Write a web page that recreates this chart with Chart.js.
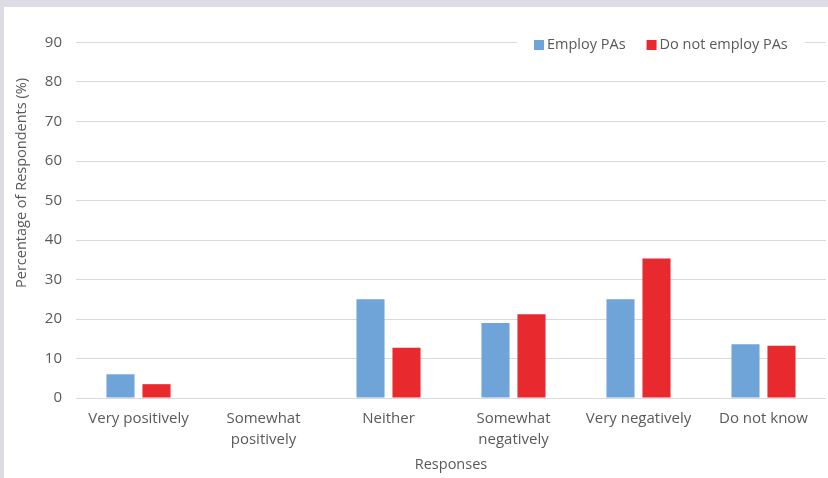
<!DOCTYPE html>
<html>
<head>
<meta charset="utf-8">
<script src="https://cdn.jsdelivr.net/npm/chart.js@4"></script>
<style>
  html, body { margin: 0; padding: 0; }
  body { width: 828px; height: 478px; position: relative; overflow: hidden; background: #fff; }
  #wrap { position: absolute; left: 0; top: -20px; width: 828px; height: 498px; }
  .band { position: absolute; background: #dddbe3; z-index: 2; }
</style>
</head>
<body>
<div id="wrap"><canvas id="chart"></canvas></div>
<div class="band" style="left:0;top:0;width:828px;height:7px;"></div>
<div class="band" style="left:0;top:0;width:4px;height:478px;"></div>
<script>
const categories = ['Very positively', ['Somewhat', 'positively'], 'Neither', ['Somewhat', 'negatively'], 'Very negatively', 'Do not know'];
const employPAs = [6, 0, 25, 19, 25, 13.6];
const doNotEmployPAs = [3.5, 0, 12.7, 21.2, 35.3, 13.2];
const yTicks = [0, 10, 20, 30, 40, 50, 60, 70, 80, 90, 100];

const textColor = '#595959';
Chart.defaults.font.family = "'Open Sans', sans-serif";
Chart.defaults.font.size = 14;
Chart.defaults.color = textColor;

// legend box sitting inside the plot, top right
const boxLegend = {
  id: 'boxLegend',
  afterDraw(chart) {
    const c = chart.ctx;
    const a = chart.chartArea;
    const y = a.top + 42;
    c.save();
    c.fillStyle = '#fff';
    c.fillRect(a.right - 309, y - 10, 288, 20);
    c.font = "14.5px 'Open Sans', sans-serif";
    c.textBaseline = 'middle';
    let x = a.right - 292;
    chart.data.datasets.forEach(ds => {
      c.fillStyle = ds.backgroundColor;
      c.fillRect(x, y - 5, 10, 10);
      c.fillStyle = textColor;
      c.fillText(ds.label, x + 13, y);
      x += 13 + c.measureText(ds.label).width + 21;
    });
    c.restore();
  }
};

// y axis title, placed like the original (a bit above the plot centre)
const yTitle = {
  id: 'yTitle',
  afterDraw(chart) {
    const c = chart.ctx;
    const a = chart.chartArea;
    c.save();
    c.translate(22, a.bottom - 215);
    c.rotate(-Math.PI / 2);
    c.font = "14.5px 'Open Sans', sans-serif";
    c.fillStyle = textColor;
    c.textAlign = 'center';
    c.textBaseline = 'middle';
    c.fillText('Percentage of Respondents (%)', 0, 0);
    c.restore();
  }
};

new Chart(document.getElementById('chart'), {
  type: 'bar',
  data: {
    labels: categories,
    datasets: [{
      label: 'Employ PAs',
      data: employPAs,
      backgroundColor: '#6fa4d9',
      barPercentage: 0.78,
      categoryPercentage: 0.576
    }, {
      label: 'Do not employ PAs',
      data: doNotEmployPAs,
      backgroundColor: '#e8292e',
      barPercentage: 0.78,
      categoryPercentage: 0.576
    }]
  },
  options: {
    responsive: true,
    maintainAspectRatio: false,
    animation: false,
    layout: { padding: { left: 0, right: 2, top: 0, bottom: 0 } },
    plugins: {
      legend: { display: false },
      tooltip: { enabled: false }
    },
    scales: {
      x: {
        grid: { display: false },
        border: { display: false },
        ticks: { maxRotation: 0, autoSkip: false, padding: 3, font: { size: 15, lineHeight: 1.35 } },
        title: { display: true, text: 'Responses', font: { size: 14.5 }, padding: { top: 4, bottom: 4 } },
        afterFit(scale) { scale.height = 80; }
      },
      y: {
        min: 0,
        max: 100,
        afterBuildTicks(scale) { scale.ticks = yTicks.map(v => ({ value: v })); },
        grid: { color: '#d9d9d9', drawTicks: false },
        border: { display: false },
        ticks: { padding: 14, font: { size: 15 } },
        afterFit(scale) { scale.width = 76; }
      }
    }
  },
  plugins: [boxLegend, yTitle]
});
</script>
</body>
</html>
